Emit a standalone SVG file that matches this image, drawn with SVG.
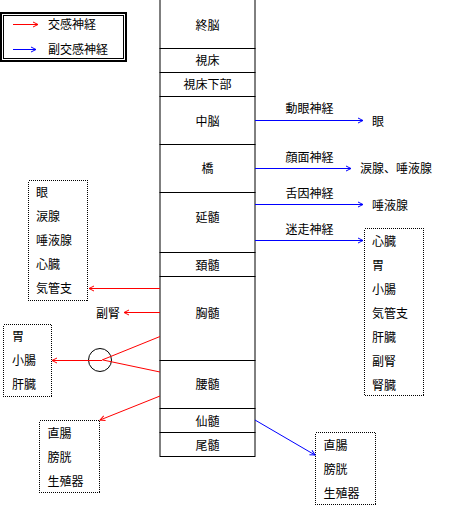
<svg xmlns="http://www.w3.org/2000/svg" width="461" height="508" viewBox="0 0 461 508">
<style>
text{font-family:"Noto Sans CJK JP","Noto Sans CJK SC",sans-serif;font-size:12px;fill:#000}
.c{text-anchor:middle}
.seg{fill:#fff;stroke:#000;stroke-width:1}
.dot{fill:#fff;stroke:#000;stroke-width:1;stroke-dasharray:1,1;shape-rendering:crispEdges}
.r{stroke:#f00;stroke-width:1;fill:none}
.b{stroke:#00f;stroke-width:1;fill:none}
</style>
<defs>
<marker id="ar" markerUnits="userSpaceOnUse" markerWidth="8" markerHeight="8" refX="6" refY="4" orient="auto"><path d="M1,1.5 L6,4 L1,6.5" fill="none" stroke="#f00" stroke-width="1"/></marker>
<marker id="ab" markerUnits="userSpaceOnUse" markerWidth="8" markerHeight="8" refX="6" refY="4" orient="auto"><path d="M1,1.5 L6,4 L1,6.5" fill="none" stroke="#00f" stroke-width="1"/></marker>
</defs>
<rect width="461" height="508" fill="#fff"/>
<g id="legend">
<rect x="1" y="13" width="125" height="48" fill="#fff" stroke="#000" stroke-width="2"/>
<rect x="3.5" y="15.5" width="120" height="43" fill="none" stroke="#000" stroke-width="1"/>
<line x1="13" y1="24.5" x2="38" y2="24.5" class="r" marker-end="url(#ar)"/>
<text x="48" y="29">交感神経</text>
<line x1="13" y1="49.5" x2="36" y2="49.5" class="b" marker-end="url(#ab)"/>
<text x="48" y="54">副交感神経</text>
</g>
<g id="column">
<g id="n-shuno"><rect class="seg" x="160" y="-1" width="95" height="49.5"/><text class="c" x="207.5" y="30">終脳</text></g>
<g id="n-shisho"><rect class="seg" x="160" y="48.5" width="95" height="24"/><text class="c" x="207.5" y="65">視床</text></g>
<g id="n-shishokabu"><rect class="seg" x="160" y="72.5" width="95" height="24"/><text class="c" x="207.5" y="89">視床下部</text></g>
<g id="n-chuno"><rect class="seg" x="160" y="96.5" width="95" height="48"/><text class="c" x="207.5" y="126">中脳</text></g>
<g id="n-kyo"><rect class="seg" x="160" y="144.5" width="95" height="48"/><text class="c" x="207.5" y="173">橋</text></g>
<g id="n-enzui"><rect class="seg" x="160" y="192.5" width="95" height="60"/><text class="c" x="207.5" y="222">延髄</text></g>
<g id="n-keizui"><rect class="seg" x="160" y="252.5" width="95" height="24"/><text class="c" x="207.5" y="270">頚髄</text></g>
<g id="n-kyozui"><rect class="seg" x="160" y="276.5" width="95" height="84"/><text class="c" x="207.5" y="318">胸髄</text></g>
<g id="n-yozui"><rect class="seg" x="160" y="360.5" width="95" height="48"/><text class="c" x="207.5" y="389">腰髄</text></g>
<g id="n-senzui"><rect class="seg" x="160" y="408.5" width="95" height="24"/><text class="c" x="207.5" y="426">仙髄</text></g>
<g id="n-bizui"><rect class="seg" x="160" y="432.5" width="95" height="24"/><text class="c" x="207.5" y="450">尾髄</text></g>
</g>
<g id="targets">
<g id="t-me"><text x="372" y="126">眼</text></g>
<g id="t-ruisen"><text x="360" y="173">涙腺、唾液腺</text></g>
<g id="t-daeki"><text x="372" y="210">唾液腺</text></g>
<g id="t-vagus"><rect class="dot" x="364.5" y="228.5" width="59" height="167"/>
<text x="372" y="246">心臓</text><text x="372" y="270">胃</text><text x="372" y="294">小腸</text><text x="372" y="318">気管支</text><text x="372" y="342">肝臓</text><text x="372" y="366">副腎</text><text x="372" y="390">腎臓</text></g>
<g id="t-left1"><rect class="dot" x="28.5" y="180.5" width="59" height="120"/>
<text x="36" y="197">眼</text><text x="36" y="221">涙腺</text><text x="36" y="245">唾液腺</text><text x="36" y="269">心臓</text><text x="36" y="293">気管支</text></g>
<g id="t-fukujin"><text x="96" y="318">副腎</text></g>
<g id="t-left2"><rect class="dot" x="3.5" y="324.5" width="48" height="72"/>
<text x="12" y="341">胃</text><text x="12" y="365">小腸</text><text x="12" y="389">肝臓</text></g>
<g id="t-left3"><rect class="dot" x="39.5" y="420.5" width="60" height="72"/>
<text x="47.5" y="438">直腸</text><text x="47.5" y="462">膀胱</text><text x="47.5" y="486">生殖器</text></g>
<g id="t-right3"><rect class="dot" x="315.5" y="432.5" width="60" height="72"/>
<text x="323.5" y="450">直腸</text><text x="323.5" y="474">膀胱</text><text x="323.5" y="498">生殖器</text></g>
<circle id="ganglion" cx="100" cy="360" r="11.5" fill="none" stroke="#000" stroke-width="1"/>
</g>
<g id="connectors">
<line class="b" x1="255" y1="120.5" x2="363" y2="120.5" marker-end="url(#ab)"/>
<text class="c" x="309.5" y="113">動眼神経</text>
<line class="b" x1="255" y1="168.5" x2="351" y2="168.5" marker-end="url(#ab)"/>
<text class="c" x="309.5" y="162">顔面神経</text>
<line class="b" x1="255" y1="204.5" x2="363" y2="204.5" marker-end="url(#ab)"/>
<text class="c" x="309.5" y="198">舌因神経</text>
<line class="b" x1="255" y1="240.5" x2="363" y2="240.5" marker-end="url(#ab)"/>
<text class="c" x="309.5" y="234">迷走神経</text>
<line class="r" x1="160" y1="288.5" x2="89" y2="288.5" marker-end="url(#ar)"/>
<line class="r" x1="160" y1="312.5" x2="124" y2="312.5" marker-end="url(#ar)"/>
<line class="r" x1="160" y1="336.5" x2="102" y2="360"/>
<line class="r" x1="160" y1="372" x2="103" y2="360"/>
<line class="r" x1="102" y1="360.5" x2="52" y2="360.5" marker-end="url(#ar)"/>
<line class="r" x1="160" y1="396" x2="100" y2="420" marker-end="url(#ar)"/>
<line class="b" x1="255" y1="420" x2="315" y2="455" marker-end="url(#ab)"/>
</g>
</svg>
